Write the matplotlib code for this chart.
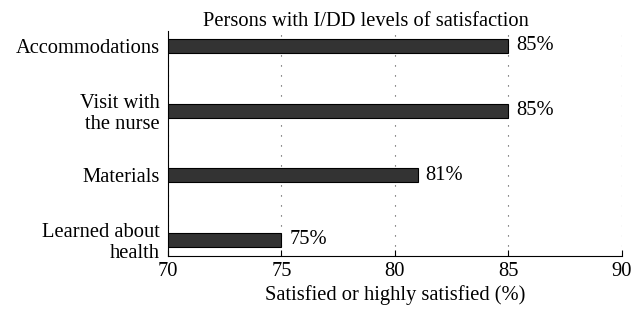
import matplotlib
matplotlib.use("Agg")
import matplotlib.pyplot as plt

categories = ["Accommodations", "Visit with\nthe nurse", "Materials", "Learned about\nhealth"]
values = [85, 85, 81, 75]
xticks = [70, 75, 80, 85, 90]

plt.rcParams['font.family'] = ['Liberation Serif', 'DejaVu Serif']
plt.rcParams['font.size'] = 14.8

fig = plt.figure(figsize=(6.34, 3.17), dpi=100)
ax = fig.add_axes([0.265, 0.192, 0.716, 0.71])

pos = list(range(len(categories)))[::-1]
ax.barh(pos, [v - 70 for v in values], left=70, height=0.22,
        color='#333333', edgecolor='black', linewidth=0.8, zorder=3)
for p, v in zip(pos, values):
    ax.text(v + 0.35, p, f"{v}%", va='center', ha='left')

ax.set_xlim(70, 90)
ax.set_ylim(-0.25, 3.23)
ax.set_xticks(xticks)
ax.set_yticks(pos)
ax.set_yticklabels(categories, linespacing=1.1)
ax.tick_params(axis='y', length=0, pad=6)
ax.tick_params(axis='x', direction='in', length=4, pad=4)
ax.grid(axis='x', linestyle=(0, (1, 8)), color='#444444', linewidth=0.8, zorder=0)
for s in ['top', 'right']:
    ax.spines[s].set_visible(False)
ax.set_xlabel("Satisfied or highly satisfied (%)", labelpad=3)
ax.set_title("Persons with I/DD levels of satisfaction", fontsize=14.8, pad=3, x=0.436)

fig.savefig("out.png", dpi=100)
